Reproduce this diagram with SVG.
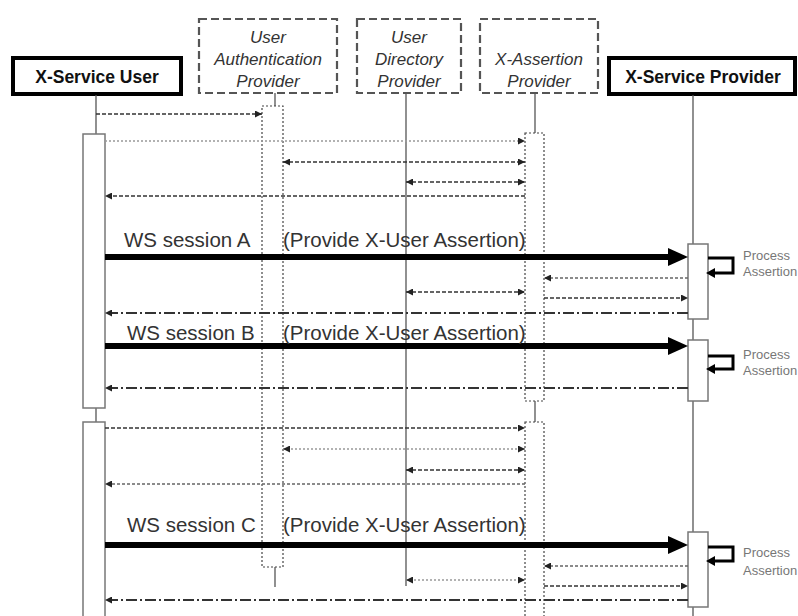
<svg xmlns="http://www.w3.org/2000/svg" width="798" height="616" viewBox="0 0 798 616">
<style>
.hdr{fill:#fff;stroke:#000;stroke-width:4}
.dhdr{fill:#fff;stroke:#555;stroke-width:2.2;stroke-dasharray:8 4}
.bt{font-family:"Liberation Sans",Arial,sans-serif;font-weight:bold;font-size:17.5px;fill:#111;text-anchor:middle}
.it{font-family:"Liberation Sans",Arial,sans-serif;font-style:italic;font-size:17px;fill:#333;text-anchor:middle}
.life{stroke:#555;stroke-width:1.3;fill:none}
.act{fill:#fff;stroke:#777;stroke-width:1.5}
.dact{fill:#fff;stroke:#444;stroke-width:1.2;stroke-dasharray:2 2}
.dash{stroke:#333;stroke-width:1.3;stroke-dasharray:4 2;fill:none}
.dashg{stroke:#666;stroke-width:1.3;stroke-dasharray:3 2;fill:none}
.dot{stroke:#999;stroke-width:1.6;stroke-dasharray:2 2;fill:none}
.dd{stroke:#333;stroke-width:2;stroke-dasharray:11 3 2 3;fill:none}
.thick{stroke:#000;stroke-width:6;fill:none}
.loop{stroke:#000;stroke-width:3;fill:none}
.lbl{font-family:"Liberation Sans",Arial,sans-serif;font-size:20.5px;fill:#333}
.pa{font-family:"Liberation Sans",Arial,sans-serif;font-size:13px;fill:#777}
</style>
<defs>
<marker id="ah" markerUnits="userSpaceOnUse" markerWidth="8" markerHeight="7" refX="7" refY="3.5" orient="auto-start-reverse"><path d="M0,0 L7,3.5 L0,7 z" fill="#222"/></marker>
<marker id="big" markerUnits="userSpaceOnUse" markerWidth="22" markerHeight="18" refX="2" refY="9" orient="auto"><path d="M0,0 L20,9 L0,18 z" fill="#000"/></marker>
<marker id="lh" markerUnits="userSpaceOnUse" markerWidth="10" markerHeight="10" refX="2" refY="5" orient="auto"><path d="M0,0 L9,5 L0,10 z" fill="#000"/></marker>
</defs>
<rect width="798" height="616" fill="#fff"/>

<g id="xsu">
<rect class="hdr" x="13" y="58" width="168" height="36"/>
<text class="bt" x="97" y="83">X-Service User</text>
<line class="life" x1="96" y1="95" x2="96" y2="134"/>
<line class="life" x1="96" y1="408" x2="96" y2="422"/>
<rect class="act" x="83" y="134" width="22" height="274"/>
<rect class="act" x="83" y="422" width="22" height="200"/>
</g>

<g id="uap">
<rect class="dhdr" x="199" y="19" width="138" height="74"/>
<text class="it" x="268" y="43">User</text>
<text class="it" x="268" y="65">Authentication</text>
<text class="it" x="268" y="87">Provider</text>
<line class="life" x1="275" y1="93" x2="275" y2="106"/>
<rect class="dact" x="262" y="106" width="21" height="461"/>
<line class="life" x1="275" y1="567" x2="275" y2="587"/>
</g>

<g id="udp">
<rect class="dhdr" x="357" y="19" width="104" height="74"/>
<text class="it" x="409" y="43">User</text>
<text class="it" x="409" y="65">Directory</text>
<text class="it" x="409" y="87">Provider</text>
<line class="life" x1="406" y1="93" x2="406" y2="586"/>
</g>

<g id="xap">
<rect class="dhdr" x="480" y="19" width="118" height="74"/>
<text class="it" x="539" y="65">X-Assertion</text>
<text class="it" x="539" y="87">Provider</text>
<line class="life" x1="535" y1="93" x2="535" y2="133"/>
<rect class="dact" x="525" y="133" width="19" height="268"/>
<line class="life" x1="535" y1="401" x2="535" y2="422"/>
<rect class="dact" x="525" y="422" width="19" height="200"/>
</g>

<g id="xsp">
<rect class="hdr" x="609" y="58" width="186" height="36"/>
<text class="bt" x="703" y="83">X-Service Provider</text>
<line class="life" x1="693" y1="95" x2="693" y2="616"/>
<rect class="act" x="688" y="244" width="20" height="75"/>
<rect class="act" x="688" y="340" width="20" height="61"/>
<rect class="act" x="688" y="532" width="20" height="75"/>
</g>

<g id="connectors">
<path class="dash" d="M96,114 H262" marker-end="url(#ah)"/>
<path class="dot" d="M105,141 H525" marker-end="url(#ah)"/>
<path class="dash" d="M283,162 H525" marker-start="url(#ah)" marker-end="url(#ah)"/>
<path class="dash" d="M406,182 H525" marker-start="url(#ah)" marker-end="url(#ah)"/>
<path class="dash" d="M525,196 H105" marker-end="url(#ah)"/>

<path class="thick" d="M105,257 H670" marker-end="url(#big)"/>
<path class="loop" d="M708,258 H733 V273 H713" marker-end="url(#lh)"/>
<path class="dashg" d="M688,278 H544" marker-end="url(#ah)"/>
<path class="dash" d="M406,292 H525" marker-start="url(#ah)" marker-end="url(#ah)"/>
<path class="dash" d="M544,298 H688" marker-end="url(#ah)"/>
<path class="dd" d="M688,313 H105" marker-end="url(#ah)"/>

<path class="thick" d="M105,346 H670" marker-end="url(#big)"/>
<path class="loop" d="M708,356 H733 V369 H713" marker-end="url(#lh)"/>
<path class="dd" d="M688,388 H105" marker-end="url(#ah)"/>

<path class="dash" d="M105,428 H525" marker-end="url(#ah)"/>
<path class="dot" d="M283,449 H525" marker-start="url(#ah)" marker-end="url(#ah)"/>
<path class="dash" d="M406,470 H525" marker-start="url(#ah)" marker-end="url(#ah)"/>
<path class="dashg" d="M525,484 H105" marker-end="url(#ah)"/>

<path class="thick" d="M105,545 H670" marker-end="url(#big)"/>
<path class="loop" d="M708,547 H733 V561 H713" marker-end="url(#lh)"/>
<path class="dashg" d="M688,566 H544" marker-end="url(#ah)"/>
<path class="dot" d="M406,580 H525" marker-start="url(#ah)" marker-end="url(#ah)"/>
<path class="dash" d="M544,586 H688" marker-end="url(#ah)"/>
<path class="dd" d="M688,600 H105" marker-end="url(#ah)"/>
</g>

<g id="labels">
<text class="lbl" x="124" y="247">WS session A</text>
<text class="lbl" x="283" y="247">(Provide X-User Assertion)</text>
<text class="lbl" x="127" y="340">WS session B</text>
<text class="lbl" x="283" y="340">(Provide X-User Assertion)</text>
<text class="lbl" x="127" y="532">WS session C</text>
<text class="lbl" x="283" y="532">(Provide X-User Assertion)</text>
<text class="pa" x="743" y="260">Process</text>
<text class="pa" x="743" y="276">Assertion</text>
<text class="pa" x="743" y="359">Process</text>
<text class="pa" x="743" y="375">Assertion</text>
<text class="pa" x="743" y="557">Process</text>
<text class="pa" x="743" y="575">Assertion</text>
</g>
</svg>
